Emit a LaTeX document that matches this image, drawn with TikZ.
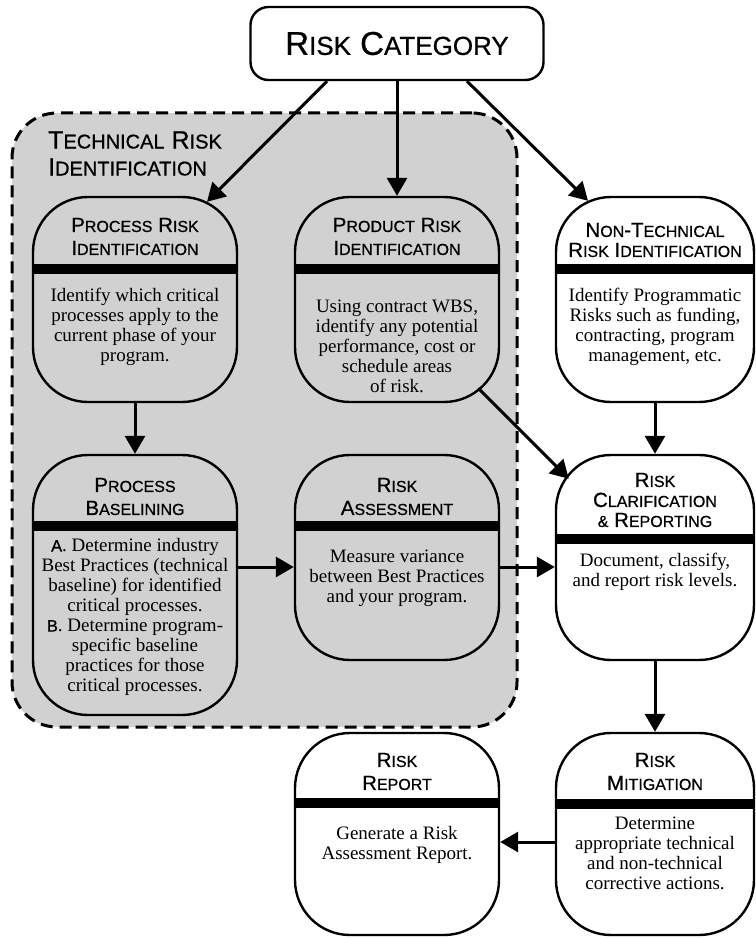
\documentclass[tikz,border=0pt]{standalone}
\usepackage{fontspec}
\newfontfamily\hdrsans[FakeBold=0.7]{Liberation Sans}
\newfontfamily\bodyserif{Liberation Serif}
\usetikzlibrary{arrows.meta,calc}
\definecolor{techgray}{gray}{0.82}
% faked small capitals: first letter large, the rest smaller
\newcommand\capA[2]{{\fontsize{20.5}{23}\selectfont #1}{\fontsize{16}{23}\selectfont #2}}
\newcommand\capB[2]{{\fontsize{25}{27}\selectfont #1}{\fontsize{20}{27}\selectfont #2}}
\newcommand\capC[2]{{\fontsize{33}{34}\selectfont #1}{\fontsize{26}{34}\selectfont #2}}
\newcommand\itemlbl[1]{{\hdrsans\fontsize{16.5}{20}\selectfont #1}}

\begin{document}
\begin{tikzpicture}[x=1pt,y=-1pt,
  stagebox/.style={draw, line width=2.4pt, rounded corners=55pt,
    minimum width=204pt, inner sep=0pt},
  whitebox/.style={stagebox, fill=white},
  graybox/.style={stagebox},
  ttl/.style={font=\hdrsans\fontsize{20.5}{23}\selectfont, align=center, inner sep=0pt},
  ttltight/.style={font=\hdrsans\fontsize{20.5}{20}\selectfont, align=center, inner sep=0pt},
  txt/.style={font=\bodyserif\fontsize{19}{20}\selectfont, align=center, inner sep=0pt},
  flow/.style={line width=3pt, -{Triangle[length=18pt,width=20pt]}},
  ]
\useasboundingbox (0,0) rectangle (755,939);
\fill[white] (0,0) rectangle (755,939);

% technical risk identification area
\node[draw, fill=techgray, line width=3pt, dash pattern=on 12pt off 7pt,
  rounded corners=45pt, minimum width=505pt, minimum height=614pt] (tech) at (264.5,420) {};
\node[font=\hdrsans\fontsize{25}{27}\selectfont, align=left, anchor=west, inner sep=0pt]
  (techT) at (48,153.5) {\capB{T}{ECHNICAL} \capB{R}{ISK}\\\capB{I}{DENTIFICATION}};

% stage boxes
\node[graybox, minimum height=205pt] (proc) at (135,299.5) {};
\node[graybox, minimum height=205pt] (prod) at (397,299.5) {};
\node[whitebox, minimum width=198pt, minimum height=205pt] (nontech) at (655,299.5) {};
\node[graybox, minimum height=260pt] (base) at (135,585) {};
\node[graybox, minimum height=205pt] (assess) at (397,557.5) {};
\node[whitebox, minimum width=198pt, minimum height=205pt] (clar) at (655,557.5) {};
\node[whitebox, minimum height=202pt] (report) at (397,834) {};
\node[whitebox, minimum width=198pt, minimum height=202pt] (mitig) at (655,834) {};

\node[draw, line width=2.4pt, fill=white, rounded corners=18pt, minimum width=293pt,
  minimum height=73pt, font=\hdrsans\fontsize{33}{34}\selectfont] (cat) at (397,43.5)
  {\capC{R}{ISK} \capC{C}{ATEGORY}};

% header bars
\foreach \n/\a/\b in {proc/68/78, prod/68/78, nontech/68/78, base/67/77,
    assess/67/77, clar/80/90, report/66/76, mitig/67/77}
  \fill ([yshift=-\a pt]\n.north west) rectangle ([yshift=-\b pt]\n.north east);

% titles and descriptions
\node[ttl] (procT) at (135,236.5) {\capA{P}{ROCESS} \capA{R}{ISK}\\\capA{I}{DENTIFICATION}};
\node[txt] (procB) at (135,327) {Identify which critical\\processes apply to the\\current phase of your\\program.};

\node[ttl] (prodT) at (397,236.5) {\capA{P}{RODUCT} \capA{R}{ISK}\\\capA{I}{DENTIFICATION}};
\node[txt] (prodB) at (397,346) {Using contract WBS,\\identify any potential\\performance, cost or\\schedule areas\\of risk.};

\node[ttltight] (nontechT) at (655,240) {\capA{N}{ON}-\capA{T}{ECHNICAL}\\\capA{R}{ISK} \capA{I}{DENTIFICATION}};
\node[txt] (nontechB) at (655,327) {Identify Programmatic\\Risks such as funding,\\contracting, program\\management, etc.};

\node[ttl] (baseT) at (135,496.5) {\capA{P}{ROCESS}\\\capA{B}{ASELINING}};
\node[txt] (baseB) at (135,617) {\itemlbl{A}. Determine industry\\Best Practices (technical\\baseline) for identified\\critical processes.\\\itemlbl{B}. Determine program-\\specific baseline\\practices for those\\critical processes.};

\node[ttl] (assessT) at (397,496.5) {\capA{R}{ISK}\\\capA{A}{SSESSMENT}};
\node[txt] (assessB) at (397,578) {Measure variance\\between Best Practices\\and your program.};

\node[ttltight] (clarT) at (655,500) {\capA{R}{ISK}\\\capA{C}{LARIFICATION}\\{\fontsize{16}{20}\selectfont\&} \capA{R}{EPORTING}};
\node[txt] (clarB) at (655,572) {Document, classify,\\and report risk levels.};

\node[ttl] (reportT) at (397,771.5) {\capA{R}{ISK}\\\capA{R}{EPORT}};
\node[txt] (reportB) at (397,845) {Generate a Risk\\Assessment Report.};

\node[ttl] (mitigT) at (655,771.5) {\capA{R}{ISK}\\\capA{M}{ITIGATION}};
\node[txt] (mitigB) at (655,853) {Determine\\appropriate technical\\and non-technical\\corrective actions.};

% connectors
\draw[flow] ([xshift=-70pt]cat.south) -- ([xshift=72pt,yshift=-6pt]proc.north);
\draw[flow] (cat.south) -- (prod.north);
\draw[flow] ([xshift=70pt]cat.south) -- ([xshift=-67pt,yshift=-5pt]nontech.north);
\draw[flow] (proc.south) -- (base.north);
\draw[flow] ($(prod.south east)+(-22,-15)$) -- ($(clar.north west)+(14,25)$);
\draw[flow] (nontech.south) -- (clar.north);
\coordinate (ba) at ([yshift=-9.5pt]assess.west);
\draw[flow] (base.east |- ba) -- (ba);
\draw[flow] ([yshift=-9.5pt]assess.east) -- ([yshift=-9.5pt]clar.west);
\draw[flow] (clar.south) -- (mitig.north);
\draw[flow] ([yshift=-8pt]mitig.west) -- ([yshift=-8pt]report.east);
\end{tikzpicture}
\end{document}
